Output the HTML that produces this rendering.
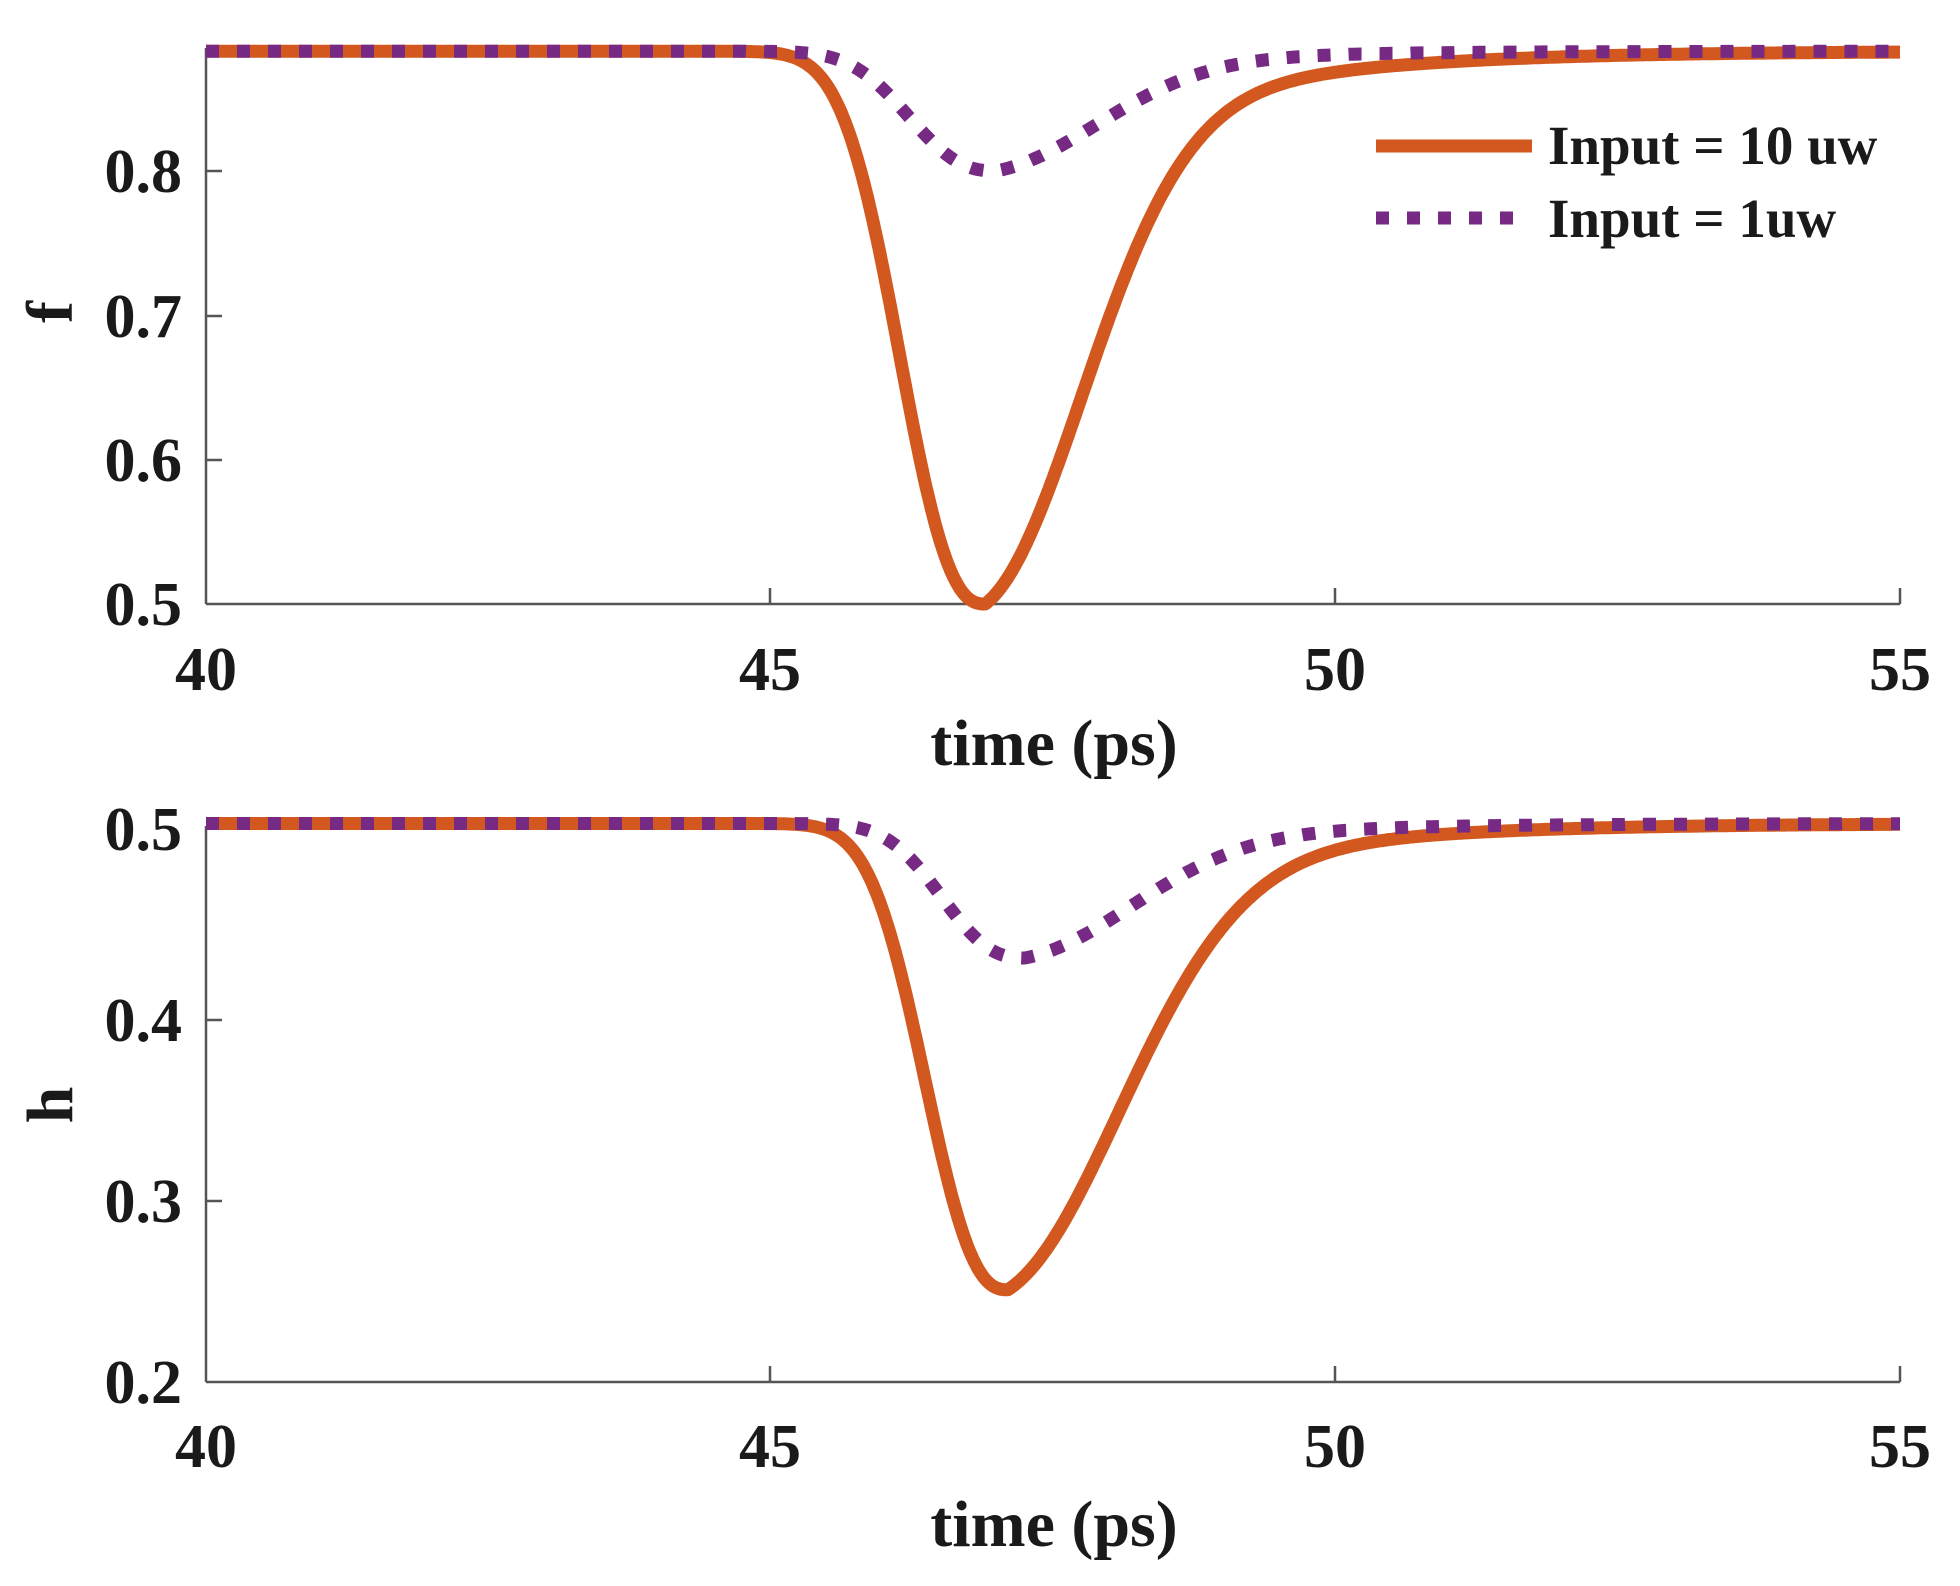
<!DOCTYPE html>
<html><head><meta charset="utf-8">
<style>
html,body{margin:0;padding:0;background:#fff;}
svg{display:block;}
text{font-family:"Liberation Serif",serif;font-weight:bold;fill:#1a1a1a;}
</style></head>
<body>
<svg id="s" width="1960" height="1586" viewBox="0 0 1960 1586" xmlns="http://www.w3.org/2000/svg">
<g stroke="#555" stroke-width="2.5" fill="none">
  <line x1="206" y1="48" x2="206" y2="604"/>
  <line x1="206" y1="604" x2="1900" y2="604"/>
  <line x1="206" y1="460" x2="222" y2="460"/>
  <line x1="206" y1="316" x2="222" y2="316"/>
  <line x1="206" y1="171" x2="222" y2="171"/>
  <line x1="770" y1="604" x2="770" y2="588"/>
  <line x1="1335" y1="604" x2="1335" y2="588"/>
  <line x1="1900" y1="604" x2="1900" y2="588"/>
  <line x1="206" y1="826" x2="206" y2="1382"/>
  <line x1="206" y1="1382" x2="1900" y2="1382"/>
  <line x1="206" y1="1020" x2="222" y2="1020"/>
  <line x1="206" y1="1201" x2="222" y2="1201"/>
  <line x1="770" y1="1382" x2="770" y2="1366"/>
  <line x1="1335" y1="1382" x2="1335" y2="1366"/>
  <line x1="1900" y1="1382" x2="1900" y2="1366"/>
</g>
<g id="curves"></g>
<g font-size="62" text-anchor="end">
  <text x="182" y="192">0.8</text>
  <text x="182" y="337">0.7</text>
  <text x="182" y="481">0.6</text>
  <text x="182" y="625">0.5</text>
  <text x="182" y="850">0.5</text>
  <text x="182" y="1041">0.4</text>
  <text x="182" y="1222">0.3</text>
  <text x="182" y="1403">0.2</text>
</g>
<g font-size="62" text-anchor="middle">
  <text x="206" y="690">40</text>
  <text x="770" y="690">45</text>
  <text x="1335" y="690">50</text>
  <text x="1900" y="690">55</text>
  <text x="206" y="1467">40</text>
  <text x="770" y="1467">45</text>
  <text x="1335" y="1467">50</text>
  <text x="1900" y="1467">55</text>
  <text x="1054" y="765" font-size="66">time (ps)</text>
  <text x="1054" y="1546" font-size="66">time (ps)</text>
  <text transform="translate(72,312) rotate(-90)" font-size="66">f</text>
  <text transform="translate(72,1105) rotate(-90)" font-size="66">h</text>
</g>
<line x1="1376" y1="146" x2="1532" y2="146" stroke="#d2581f" stroke-width="13"/>
<line x1="1376" y1="218" x2="1520" y2="218" stroke="#762a83" stroke-width="13" stroke-dasharray="13 18"/>
<g font-size="55">
  <text x="1548" y="164">Input = 10 uw</text>
  <text x="1548" y="237">Input = 1uw</text>
</g>
</svg>
<script>
function g(t,t0,sL,sR,tau,p){
  var d=t-t0;
  if(d<0){return Math.exp(-Math.pow(-d/sL,p));}
  return 0.75*Math.exp(-d*d/(2*sR*sR))+0.25*Math.exp(-d/tau);
}
function X(t){return 206+(t-40)*112.93;}
function Yt(v){return 604-(v-0.5)*1443.3;}
function Yb(v){return 1382-(v-0.2)*1843.3;}
function path(base,A,t0,sL,sR,tau,Y){
  var s="";
  for(var t=40;t<=55.0001;t+=0.02){
    var v=base-A*g(t,t0,sL,sR,tau,2.5);
    s+=(s?"L":"M")+X(t).toFixed(1)+","+Y(v).toFixed(1);
  }
  return s;
}
var c=document.getElementById("curves");
var ns="http://www.w3.org/2000/svg";
function add(d,color,dash){
  var p=document.createElementNS(ns,"path");
  p.setAttribute("d",d);p.setAttribute("fill","none");
  p.setAttribute("stroke",color);p.setAttribute("stroke-width","13");
  p.setAttribute("stroke-linejoin","round");
  if(dash)p.setAttribute("stroke-dasharray",dash);
  c.appendChild(p);
}
add(path(0.883,0.383,46.9,0.93,0.9,1.6,Yt),"#d2581f");
add(path(0.883,0.083,47.0,0.95,0.95,1.3,Yt),"#762a83","13 18");
add(path(0.503,0.253,47.1,0.9,1.05,1.6,Yb),"#d2581f");
add(path(0.503,0.073,47.25,0.9,1.0,1.5,Yb),"#762a83","13 18");
</script>
</body></html>
